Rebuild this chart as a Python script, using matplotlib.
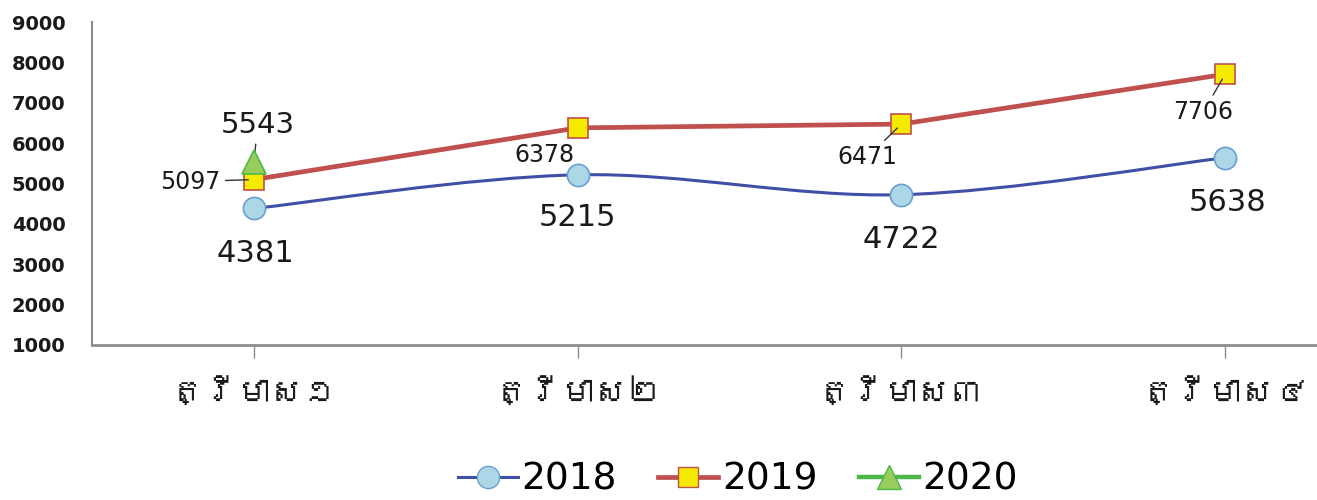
import matplotlib
matplotlib.use('Agg')
import matplotlib.pyplot as plt
import numpy as np
from matplotlib import font_manager, ft2font
from matplotlib.path import Path
from matplotlib.patches import PathPatch
from matplotlib.lines import Line2D

quarters = ['ត្រីមាស១', 'ត្រីមាស២', 'ត្រីមាស៣', 'ត្រីមាស៤']
values_2018 = [4381, 5215, 4722, 5638]
values_2019 = [5097, 6378, 6471, 7706]
values_2020 = [5543]
years = ['2018', '2019', '2020']
y_ticks = [1000, 2000, 3000, 4000, 5000, 6000, 7000, 8000, 9000]


def khmer_family():
    # first installed font that has Khmer glyphs, if any
    for f in font_manager.fontManager.ttflist:
        try:
            if 0x1780 in ft2font.FT2Font(f.fname).get_charmap():
                return f.name
        except Exception:
            pass
    return None


def smooth_path(xs, ys):
    # excel-like smoothed line: catmull-rom converted to bezier segments
    pts = np.column_stack([xs, ys]).astype(float)
    ext = np.vstack([pts[0], pts, pts[-1]])
    verts = [tuple(pts[0])]
    codes = [Path.MOVETO]
    for i in range(1, len(ext) - 2):
        p0, p1, p2, p3 = ext[i - 1], ext[i], ext[i + 1], ext[i + 2]
        c1 = p1 + (p2 - p0) / 6
        c2 = p2 - (p3 - p1) / 6
        verts += [tuple(c1), tuple(c2), tuple(p2)]
        codes += [Path.CURVE4] * 3
    return Path(verts, codes)


blue_line = '#3F4FA6'
blue_face = '#ABD7E6'
blue_edge = '#6B9FD2'
red_line = '#C0504D'
yellow = '#F5EB00'
green_line = '#4DB848'
green_face = '#98CC5C'
axis_grey = '#8C8C8C'
text_col = '#1a1a1a'

fig = plt.figure(figsize=(13.17, 5), dpi=100)
ax = fig.add_axes([92 / 1317, 1 - 345 / 500, (1387 - 92) / 1317, 323 / 500])

x = np.arange(len(quarters))

# 2018 smoothed
ax.add_patch(PathPatch(smooth_path(x, values_2018), facecolor='none',
                       edgecolor=blue_line, lw=2.2, zorder=2))
ax.plot(x, values_2018, ls='none', marker='o', ms=16, mfc=blue_face,
        mec=blue_edge, mew=1.2, zorder=3)

ax.plot(x, values_2019, color=red_line, lw=3.4, marker='s', ms=14,
        mfc=yellow, mec=red_line, mew=1.2, zorder=4)

ax.plot(x[:len(values_2020)], values_2020, color=green_line, lw=3.2,
        marker='^', ms=17, mfc=green_face, mec=green_line, mew=1.2, zorder=5)

# data labels (offsets in pixels from the point)
lab_2018 = [(2, -45), (0, -43), (0, -45), (2, -45)]
for i, v in enumerate(values_2018):
    ax.annotate(str(v), (x[i], v), xytext=lab_2018[i], textcoords='offset pixels',
                ha='center', va='center', fontsize=22, color=text_col)

lab_2019 = [(-64, -2), (-33, -27), (-34, -33), (-22, -38)]
leader_2019 = [True, False, True, True]
for i, v in enumerate(values_2019):
    arrow = dict(arrowstyle='-', color='#333333', lw=1, shrinkA=2, shrinkB=4) if leader_2019[i] else None
    ax.annotate(str(v), (x[i], v), xytext=lab_2019[i], textcoords='offset pixels',
                ha='center', va='center', fontsize=17, color=text_col,
                arrowprops=arrow, zorder=6)

for i, v in enumerate(values_2020):
    ax.annotate(str(v), (x[i], v), xytext=(4, 37), textcoords='offset pixels',
                ha='center', va='center', fontsize=21, color=text_col,
                arrowprops=dict(arrowstyle='-', color='#333333', lw=1, shrinkA=2, shrinkB=3))

ax.set_xlim(-0.5, len(quarters) - 0.5)
ax.set_ylim(1000, 9000)
ax.set_yticks(y_ticks)
ax.set_yticklabels([str(t) for t in y_ticks], fontsize=14, fontweight='bold',
                   color=text_col)
ax.set_xticks(x)
kh = khmer_family()
ax.set_xticklabels(quarters, fontsize=24, color=text_col,
                   family=[kh, 'DejaVu Sans'] if kh else ['DejaVu Sans'])

ax.tick_params(axis='y', length=0, pad=19)
ax.tick_params(axis='x', length=9, width=1, color=axis_grey, direction='out', pad=14)
for side in ['top', 'right']:
    ax.spines[side].set_visible(False)
ax.spines['left'].set_color(axis_grey)
ax.spines['left'].set_linewidth(1.5)
ax.spines['bottom'].set_color(axis_grey)
ax.spines['bottom'].set_linewidth(2)

handles = [
    Line2D([], [], color=blue_line, lw=2.2, marker='o', ms=16, mfc=blue_face, mec=blue_edge),
    Line2D([], [], color=red_line, lw=3.4, marker='s', ms=14, mfc=yellow, mec=red_line),
    Line2D([], [], color=green_line, lw=3.2, marker='^', ms=17, mfc=green_face, mec=green_line),
]
fig.legend(handles, years, loc='center', bbox_to_anchor=(738 / 1317, 20 / 500),
           ncol=3, frameon=False, fontsize=27, handlelength=1.6,
           handletextpad=0.1, columnspacing=1.1, borderpad=0)

fig.savefig('out.png', dpi=100)
